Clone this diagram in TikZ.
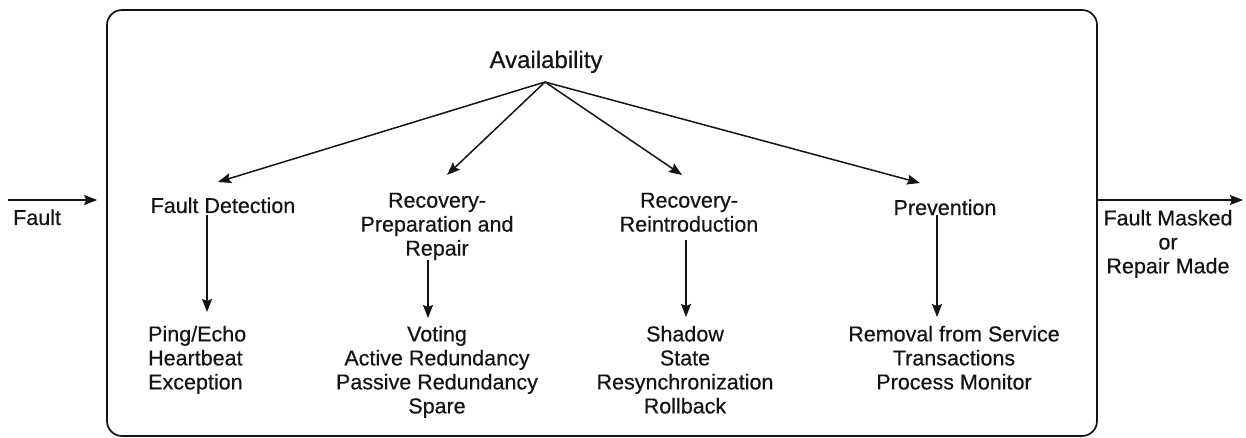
\documentclass[tikz,border=0pt]{standalone}
\usepackage{fontspec}
\setmainfont{Liberation Sans}[FakeBold=0.4]
\newfontfamily\labelfont{Liberation Sans}[FakeBold=0.4]
\usetikzlibrary{arrows.meta,calc}
\definecolor{ink}{HTML}{141414}
\begin{document}
\begin{tikzpicture}[x=1pt,y=-1pt,
  lbl/.style={inner sep=0pt, text=ink, font=\labelfont\fontsize{21.5}{24}\selectfont},
  title/.style={lbl, font=\labelfont\fontsize{24}{28}\selectfont},
  arr/.style={draw=ink, line width=1.5pt, -{Stealth[length=13pt,width=10pt,inset=2pt]}},
  heavy/.style={line width=1.9pt},
  light/.style={line width=1.2pt},
  frameline/.style={draw=ink, line width=1.7pt, rounded corners=15pt, inner sep=0pt}
]
\useasboundingbox (0,0) rectangle (1246,438);

% surrounding system boundary
\node[frameline, minimum width=990pt, minimum height=426pt] (frame) at (602,223) {};

% quality attribute and its tactic groups
\node[title, anchor=base] (avail) at (546,68) {Availability};
\coordinate (apex) at ($(avail.base)+(-1,14)$);

\node[lbl, anchor=base] (fd) at (223,213) {Fault Detection};
\node[lbl, anchor=north, align=center] (rp) at (437,192.6) {Recovery-\\Preparation and\\Repair};
\node[lbl, anchor=north, align=center] (ri) at (689,192.6) {Recovery-\\Reintroduction};
\node[lbl, anchor=base] (pv) at (945,215) {Prevention};

% individual tactics
\node[lbl, anchor=north west, align=left] (tfd) at (148,325.6) {Ping/Echo\\Heartbeat\\Exception};
\node[lbl, anchor=north, align=center] (trp) at (437,325.6) {Voting\\Active Redundancy\\Passive Redundancy\\Spare};
\node[lbl, anchor=north, align=center] (tri) at (685,325.6) {Shadow\\State\\Resynchronization\\Rollback};
\node[lbl, anchor=north, align=center] (tpv) at (954,325.6) {Removal from Service\\Transactions\\Process Monitor};

% stimulus and response
\node[lbl, anchor=base west] (fault) at (13,225) {Fault};
\node[lbl, anchor=north, align=center] (done) at (1168,209.6) {Fault Masked\\or\\Repair Made};

% fan-out from the attribute
\draw[arr] (apex) -- ($(fd.base)+(-5,-31)$);
\draw[arr] (apex) -- ($(rp.north)+(10,-17.6)$);
\draw[arr] (apex) -- ($(ri.north)+(-7,-17.6)$);
\draw[arr] (apex) -- ($(pv.base)+(-25,-32)$);

% groups to their tactics
\draw[arr, heavy] ($(fd.base)+(-16,2)$) -- ($(tfd.north west)+(59,-13.6)$);
\draw[arr, light] ($(rp.south)+(-9,0)$) -- ($(trp.north)+(-9,-7.6)$);
\draw[arr, heavy] ($(ri.south)+(-3,8)$) -- ($(tri.north)+(1,-8.6)$);
\draw[arr, light] ($(pv.base)+(-8,0.5)$) -- ($(tpv.north)+(-17,-8.6)$);

% input and output arrows
\draw[arr, line width=1.7pt] ($(fault.base west)+(-5,-25)$) -- ($(frame.west)+(-9,-23)$);
\draw[arr, line width=1.7pt] ($(frame.east)+(0,-23)$) -- ($(done.north)+(75,-9.6)$);
\end{tikzpicture}
\end{document}
